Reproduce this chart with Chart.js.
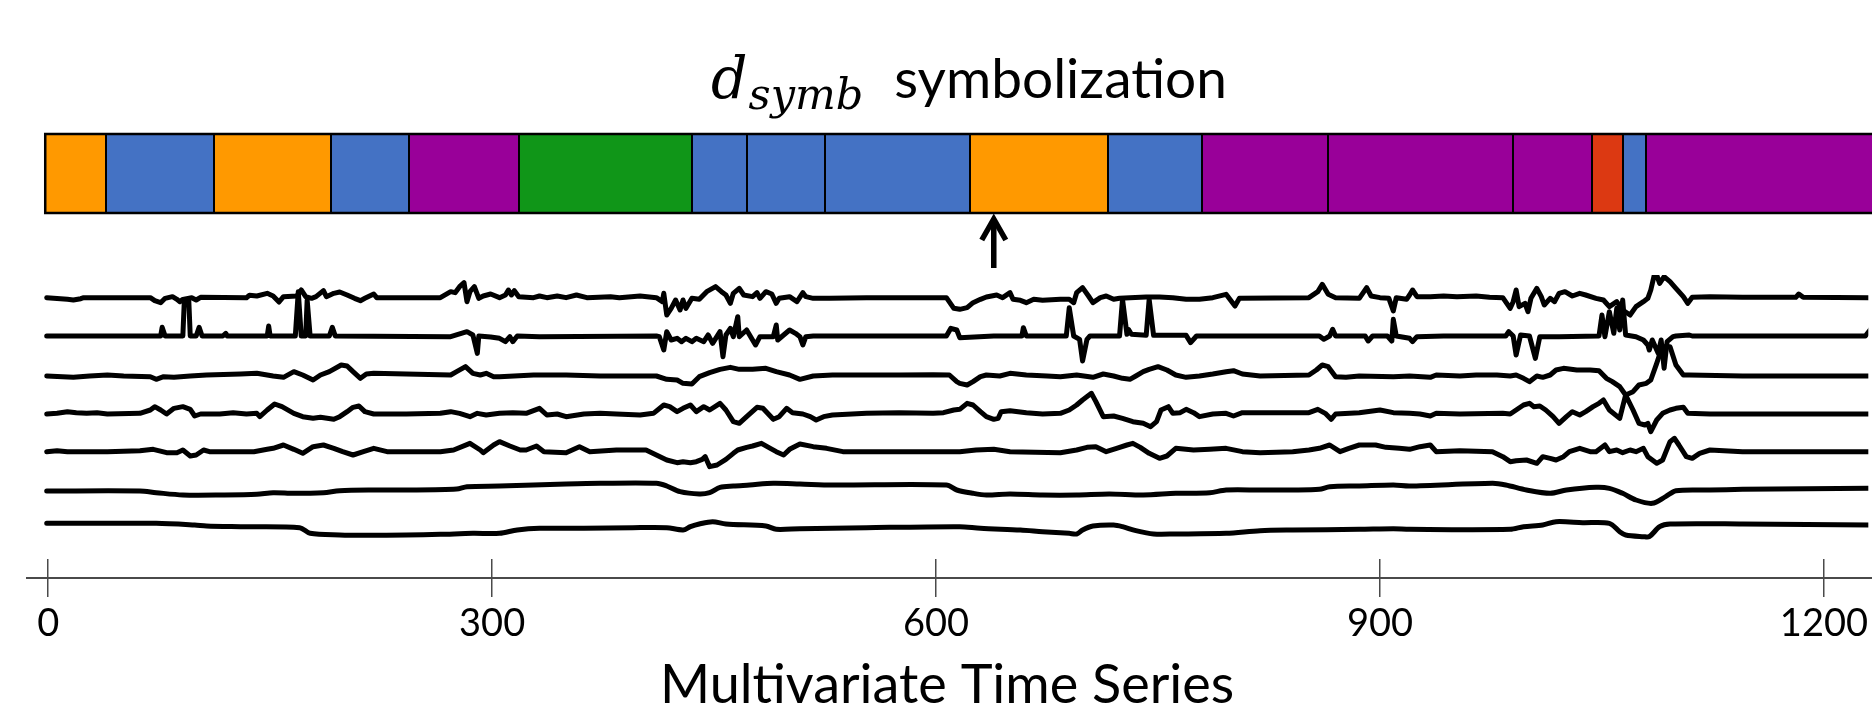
<!DOCTYPE html>
<html>
<head>
<meta charset="utf-8">
<script src="https://cdn.jsdelivr.net/npm/chart.js@4.4.1/dist/chart.umd.min.js"></script>
<style>
  html, body { margin: 0; padding: 0; background: #fff; }
  #wrap { width: 1872px; height: 713px; }
</style>
</head>
<body>
<div id="wrap"><canvas id="chart" width="1872" height="713"></canvas></div>
<script>
// symbol segments of the series (start of each segment, in time steps)
var segStarts = [-2, 39, 112, 191, 244, 318, 435, 472, 525, 623, 716, 780, 865, 990, 1043, 1064, 1080];
var segEnd = 1236;
var segSymbols = ['a', 'b', 'a', 'b', 'c', 'd', 'b', 'b', 'b', 'a', 'b', 'c', 'c', 'c', 'e', 'b', 'c'];
var symbolColors = { a: '#FF9900', b: '#4472C4', c: '#990099', d: '#109618', e: '#DC3912' };
var arrowAt = 639;
var tickValues = [0, 300, 600, 900, 1200];

// the seven channels, [time, value]
var s1 = [[-1,0],[13,-5],[17,-7],[22,-3],[24,0],[69,0],[72,-9],[76,-15],[79,-2],[84,3],[87,-5],[89,-12],[91,-5],[97,0],[100,-7],[103,1],[134,0],[136,7],[141,5],[148,13],[152,5],[156,-13],[159,3],[168,5],[171,23],[174,3],[178,-2],[181,3],[186,21],[188,3],[193,13],[197,17],[202,8],[207,-2],[211,-9],[214,-2],[220,11],[222,0],[265,0],[272,18],[275,15],[278,33],[281,45],[283,-12],[285,18],[288,33],[291,-2],[294,5],[299,11],
  [305,0],[309,8],[311,23],[313,8],[315,21],[318,3],[328,0],[332,5],[337,0],[344,5],[350,0],[357,8],[364,0],[380,3],[386,0],[400,5],[411,0],[415,-12],[416,13],[418,-52],[421,-32],[424,-7],[427,-37],[429,-7],[431,-32],[435,-2],[440,-5],[445,18],[451,33],[455,18],[458,8],[461,-17],[463,13],[467,28],[470,8],[476,3],[479,15],[481,-2],[485,18],[489,11],[492,-17],[494,-2],[501,3],[506,-12],[510,15],[512,3],[517,-2],[528,-2],[553,0],[607,0],[612,-32],
  [616,-35],[621,-30],[625,-15],[630,-5],[634,2],[641,8],[645,0],[650,15],[652,-5],[657,-8],[661,-15],[666,-5],[672,-8],[684,-5],[690,-5],[693,-15],[695,15],[699,30],[703,5],[706,-15],[711,0],[715,5],[720,-5],[724,-2],[731,0],[742,2],[751,2],[760,0],[769,-5],[778,-5],[787,0],[796,10],[802,-25],[805,-2],[852,0],[858,18],[861,40],[865,10],[870,0],[886,-2],[891,30],[894,5],[900,0],[906,-2],[909,-40],[911,0],[918,-5],
  [920,8],[922,23],[925,3],[934,3],[943,5],[952,3],[965,5],[974,1],[983,0],[988,-32],[990,-12],[992,23],[994,-27],[998,-17],[1000,-42],[1002,-2],[1006,28],[1009,3],[1011,-22],[1015,-2],[1018,-12],[1021,13],[1025,18],[1030,5],[1035,13],[1039,8],[1046,-2],[1051,-7],[1055,-27],[1060,-12],[1064,-37],[1069,-52],[1073,-27],[1078,-12],[1081,-2],[1083,23],[1086,80],[1089,43],[1092,63],[1096,48],[1100,28],[1105,3],[1108,-17],[1111,1],[1123,3],[1145,1],[1181,1],[1183,11],[1186,1],[1231,0]];

var s2 = [[-1,0],[76,0],[77,26],[79,0],[91,0],[92,108],[95,108],[96,0],[100,0],[102,26],[104,0],[118,0],[120,8],[121,0],[148,0],[149,30],[150,0],[167,0],[169,133],[171,0],[174,0],[175,108],[177,0],[190,0],[192,26],[194,0],[272,-2],[283,13],[287,3],[290,-52],[291,0],[299,-3],
  [305,-7],[309,-17],[312,-2],[314,-17],[317,0],[332,-2],[411,0],[413,-2],[416,-42],[418,13],[421,-12],[425,-7],[428,-17],[431,-7],[435,-17],[438,-7],[443,-17],[446,3],[449,-22],[454,13],[456,-62],[458,3],[461,23],[463,-2],[466,58],[467,-2],[472,18],[478,-27],[481,-2],[490,-2],[492,33],[493,-12],[497,3],[501,18],[505,8],[508,-2],[510,-27],[512,-2],[517,0],[607,0],[610,23],[614,18],
  [616,-5],[639,0],[658,0],[659,25],[661,0],[688,0],[690,85],[693,0],[697,-10],[699,-75],[702,-10],[704,0],[724,0],[726,110],[729,5],[730,20],[732,5],[742,2],[744,110],[747,2],[769,2],[772,-20],[776,0],[859,0],[862,-10],[866,0],[868,20],[870,0],[890,0],[892,-15],[895,0],[905,0],[908,-15],[909,50],[911,0],
  [920,-7],[922,-17],[925,-2],[943,0],[985,0],[987,13],[990,0],[992,-57],[995,3],[1001,0],[1005,-67],[1008,-2],[1021,-2],[1048,0],[1050,63],[1052,-2],[1055,73],[1058,8],[1060,83],[1062,18],[1064,108],[1066,3],[1073,-2],[1078,-12],[1081,-27],[1082,-42],[1084,-12],[1088,-52],[1090,-12],[1092,-97],[1094,-17],[1098,-2],[1100,0],[1109,3],[1111,0],[1228,0],[1232,23]];

var s3 = [[-1,0],[17,-4],[28,0],[40,3],[51,0],[69,-2],[73,-10],[78,-2],[85,-4],[96,0],[107,3],[130,6],[141,8],[152,0],[159,-4],[166,13],[172,3],[179,-12],[184,3],[190,13],[198,33],[202,30],[206,13],[211,-7],[215,6],[220,8],[242,6],[272,3],[276,13],[282,28],[287,8],[292,3],[296,8],[301,-2],
  [305,-2],[328,3],[350,3],[373,0],[395,0],[411,0],[418,-10],[425,-12],[429,-22],[435,-24],[440,-2],[447,10],[454,20],[461,26],[467,20],[476,20],[485,23],[492,13],[501,3],[508,-10],[517,0],[530,3],[575,3],[598,4],[609,3],[614,-17],
  [616,-22],[621,-27],[625,-17],[630,-2],[634,3],[643,0],[650,8],[661,3],[675,0],[684,-2],[695,3],[706,-4],[713,6],[720,0],[726,-7],[731,-10],[735,0],[740,13],[744,20],[750,28],[756,18],[762,3],[769,-4],[778,0],[787,6],[796,13],[801,16],[807,6],[819,0],[852,3],[857,18],[861,33],[865,28],[870,-2],[877,-4],[886,0],[909,-2],
  [920,0],[934,-4],[938,3],[954,0],[965,3],[979,3],[988,0],[992,3],[997,-7],[1001,-17],[1006,0],[1010,-4],[1015,3],[1019,18],[1024,23],[1033,18],[1042,18],[1048,16],[1053,-7],[1057,-17],[1062,-32],[1066,-57],[1071,-47],[1075,-27],[1080,-22],[1083,-12],[1087,38],[1090,78],[1092,88],[1096,88],[1100,33],[1105,3],[1109,3],[1145,0],[1232,0]];

var s4 = [[-1,-2],[6,0],[13,5],[19,2],[26,0],[33,2],[40,-2],[62,0],[69,10],[72,20],[76,10],[80,-2],[85,15],[91,20],[96,12],[99,-8],[103,-2],[116,-2],[125,2],[134,-2],[141,0],[143,-10],[148,10],[153,28],[158,20],[166,0],[172,-10],[179,-15],[184,-12],[193,-18],[197,-10],[202,5],[206,18],[210,22],[214,5],[220,-2],[242,-2],[265,0],[272,5],[278,0],[285,-10],[290,0],[296,-5],
  [305,0],[314,2],[323,0],[332,15],[337,-5],[344,-2],[350,-10],[362,-2],[373,0],[384,-2],[400,-5],[409,0],[416,25],[420,20],[425,5],[429,15],[434,25],[438,5],[443,20],[447,10],[454,30],[458,10],[463,-25],[467,-30],[472,-10],[479,18],[483,15],[490,-18],[494,-10],[499,15],[503,2],[510,-2],[515,-10],[519,-20],[524,-10],[530,-5],[553,0],[575,2],[598,0],[605,2],[612,10],
  [616,12],[621,30],[625,25],[630,5],[634,-10],[639,-18],[642,-15],[644,5],[650,8],[661,2],[672,-2],[684,0],[690,10],[695,25],[699,40],[705,60],[708,35],[713,-10],[720,-8],[726,-15],[733,-25],[740,-30],[745,-40],[749,-25],[752,10],[757,20],[760,0],[765,2],[769,12],[774,2],[778,-10],[787,-2],[796,0],[801,-8],[807,2],[819,2],[852,2],[858,12],[863,0],[867,-18],[870,-2],[886,2],[900,10],[909,2],
  [920,0],[927,-2],[934,-8],[938,0],[954,-2],[983,0],[988,-2],[992,10],[997,25],[1001,30],[1004,20],[1008,22],[1012,10],[1017,-10],[1021,-30],[1026,-10],[1030,5],[1035,-5],[1039,5],[1044,20],[1048,30],[1051,40],[1055,10],[1062,-15],[1066,55],[1071,10],[1075,-30],[1079,-35],[1081,-30],[1083,-55],[1087,-20],[1091,0],[1096,10],[1100,15],[1105,18],[1108,0],[1123,-2],[1232,-2]];

var s5 = [[-1,0],[6,3],[13,0],[40,0],[62,3],[71,7],[80,-3],[87,-3],[91,5],[96,-13],[100,-10],[105,5],[109,0],[139,0],[148,7],[152,10],[159,20],[166,7],[172,-5],[179,15],[186,20],[193,10],[199,0],[206,-10],[213,0],[220,10],[229,0],[265,0],[274,5],[285,25],[292,5],[294,-3],[301,20],
  [305,30],[312,17],[319,5],[323,5],[330,17],[335,0],[350,-3],[359,15],[366,0],[384,5],[404,5],[411,-10],[418,-25],[425,-33],[429,-30],[434,-33],[438,-30],[442,-23],[444,-15],[447,-45],[452,-40],[458,-23],[463,-5],[466,5],[472,13],[476,17],[482,25],[488,10],[492,0],[497,-10],[501,7],[508,23],[517,15],[526,10],[537,0],[575,0],[609,0],
  [616,0],[627,5],[639,7],[650,0],[684,-3],[695,5],[702,13],[708,15],[715,0],[722,10],[729,20],[733,25],[738,13],[744,-5],[751,-20],[756,-13],[762,10],[774,5],[785,7],[796,10],[807,0],[819,-3],[841,0],[852,5],[859,10],[866,20],[873,0],[879,10],[886,20],[897,20],[904,13],[913,10],
  [920,7],[927,15],[934,20],[938,0],[954,3],[976,0],[983,-15],[988,-30],[992,-27],[999,-25],[1006,-35],[1010,-15],[1015,-20],[1019,-25],[1024,-15],[1028,0],[1035,10],[1042,0],[1046,0],[1052,20],[1055,0],[1060,5],[1064,-3],[1069,5],[1073,0],[1078,10],[1081,-15],[1087,-35],[1091,-25],[1096,30],[1099,40],[1102,20],[1107,-15],[1111,-20],[1116,-5],[1123,5],[1145,0],[1232,0]];

var s6 = [[-1,0],[62,0],[73,-5],[91,-12],[118,-12],[141,-10],[152,-5],[166,-7],[186,-5],[197,1],[220,3],[242,3],[276,6],[283,13],[305,15],[328,18],[350,21],[373,23],[411,23],[418,15],[427,-2],[440,-9],[447,-5],[454,11],[463,15],[474,18],[490,23],[508,21],[530,18],[607,18],[614,3],[625,-7],[634,-12],[650,-9],[672,-12],[695,-12],[717,-9],[740,-12],[762,-7],[785,-5],[796,3],[819,3],[841,3],[859,5],[866,13],[886,15],[909,18],[920,15],[976,23],[985,18],[999,3],[1015,-7],[1026,3],[1046,11],[1055,8],[1064,-7],[1073,-27],[1084,-37],[1093,-17],[1100,1],[1123,3],[1145,5],[1232,8]];

var s7 = [[-1,0],[73,0],[99,-5],[107,-8],[130,-10],[170,-13],[177,-30],[197,-35],[215,-36],[242,-35],[265,-33],[287,-30],[305,-30],[317,-20],[332,-15],[362,-15],[395,-13],[418,-13],[429,-20],[434,-10],[440,-2],[449,5],[458,-2],[485,-8],[492,-18],[508,-16],[530,-15],[553,-13],[616,-10],[630,-15],[657,-20],[672,-25],[690,-30],[695,-32],[699,-20],[706,-8],[720,-5],[726,-10],[735,-22],[747,-32],[762,-32],[796,-30],[819,-22],[841,-20],[886,-18],[909,-16],[920,-18],[988,-18],[997,-10],[1010,-5],[1019,5],[1037,2],[1055,0],[1062,-25],[1066,-35],[1078,-40],[1082,-40],[1089,-10],[1096,-2],[1145,-2],[1232,-5]];

var series = [s1, s2, s3, s4, s5, s6, s7];
// vertical offset of each channel's row
var rowBase = [784, 669, 549, 437, 322, 204, 107];

var datasets = series.map(function (s, i) {
    return {
        data: s.map(function (p) { return { x: p[0], y: rowBase[i] + p[1] }; }),
        borderColor: '#000',
        borderWidth: 5,
        pointRadius: 0,
        tension: i >= 5 ? 0.3 : 0,
        borderJoinStyle: 'round',
        borderCapStyle: 'round',
        fill: false
    };
});

// segment bar, arrow, axis line and the title
var decor = {
    id: 'decor',
    afterDraw: function (chart) {
        var ctx = chart.ctx, xs = chart.scales.x, area = chart.chartArea;
        ctx.save();

        // axis line
        var axisY = area.bottom + 19;
        ctx.strokeStyle = '#4a4a4a';
        ctx.lineWidth = 2;
        ctx.beginPath();
        ctx.moveTo(area.left, axisY);
        ctx.lineTo(chart.width, axisY);
        ctx.stroke();

        // symbolization bar
        var top = 134, bottom = 213;
        var px = segStarts.map(function (v) { return xs.getPixelForValue(v); });
        px.push(xs.getPixelForValue(segEnd));
        for (var i = 0; i < segSymbols.length; i++) {
            ctx.fillStyle = symbolColors[segSymbols[i]];
            ctx.fillRect(px[i], top, px[i + 1] - px[i], bottom - top);
        }
        ctx.strokeStyle = '#000';
        ctx.lineWidth = 2;
        for (i = 1; i < segSymbols.length; i++) {
            ctx.beginPath();
            ctx.moveTo(Math.round(px[i]), top);
            ctx.lineTo(Math.round(px[i]), bottom);
            ctx.stroke();
        }
        ctx.lineWidth = 2.5;
        ctx.strokeRect(px[0], top, px[px.length - 1] - px[0], bottom - top);

        // arrow
        var ax = xs.getPixelForValue(arrowAt);
        ctx.lineWidth = 5.5;
        ctx.lineCap = 'butt';
        ctx.lineJoin = 'miter';
        ctx.beginPath();
        ctx.moveTo(ax, 268);
        ctx.lineTo(ax, 222);
        ctx.stroke();
        ctx.beginPath();
        ctx.moveTo(ax - 12, 240);
        ctx.lineTo(ax, 219);
        ctx.lineTo(ax + 12, 240);
        ctx.stroke();

        // title: d_symb symbolization
        ctx.fillStyle = '#000';
        ctx.textBaseline = 'alphabetic';
        ctx.textAlign = 'left';
        var fD = 'italic 57px "DejaVu Serif"', fS = 'italic 43px "DejaVu Serif"', fT = '55px Lato';
        ctx.font = fD; var wd = ctx.measureText('d').width;
        ctx.font = fS; var ws = ctx.measureText('symb').width;
        ctx.font = fT; var wt = ctx.measureText('symbolization').width;
        var gap = 32;
        var x0 = 969 - (wd + ws + gap + wt) / 2;
        ctx.font = fD; ctx.fillText('d', x0, 98);
        ctx.font = fS; ctx.fillText('symb', x0 + wd + 1, 109);
        ctx.font = fT; ctx.fillText('symbolization', x0 + wd + ws + gap, 98);

        ctx.restore();
    }
};

var chart = new Chart(document.getElementById('chart').getContext('2d'), {
    type: 'line',
    data: { datasets: datasets },
    options: {
        responsive: false,
        animation: false,
        events: [],
        layout: { padding: { left: 26, top: 275, right: 0, bottom: 0 } },
        plugins: {
            legend: { display: false },
            tooltip: { enabled: false },
            title: { display: false }
        },
        scales: {
            x: {
                type: 'linear',
                min: -15,
                max: 1230,
                afterBuildTicks: function (scale) {
                    scale.ticks = tickValues.map(function (v) { return { value: v }; });
                },
                afterFit: function (scale) { scale.height = 154; },
                border: { display: false },
                grid: { drawOnChartArea: false, drawTicks: true, tickLength: 38, color: '#4a4a4a', lineWidth: 1.5 },
                ticks: {
                    font: { family: 'Lato', size: 38 },
                    color: '#000',
                    padding: 4,
                    maxRotation: 0,
                    autoSkip: false,
                    callback: function (v) { return String(v); }
                },
                title: {
                    display: true,
                    text: 'Multivariate Time Series',
                    font: { family: 'Lato', size: 54, lineHeight: 1.0 },
                    color: '#000',
                    padding: { top: 0, bottom: 0 }
                }
            },
            y: { display: false, min: 0, max: 852 }
        }
    },
    plugins: [decor]
});
</script>
</body>
</html>
